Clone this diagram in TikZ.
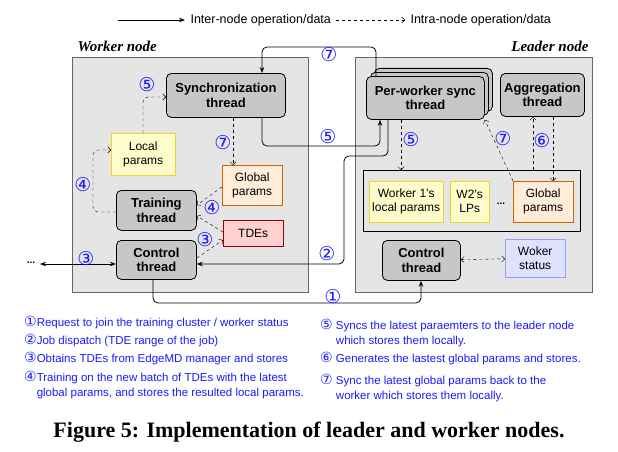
\documentclass[tikz,border=0pt]{standalone}
\usepackage{fontspec}
\setmainfont{Liberation Sans}
\newfontfamily\djv{DejaVu Sans}
\newfontfamily\capfont{Liberation Serif}
\usetikzlibrary{arrows.meta}
\definecolor{nb}{HTML}{1A1AFF}
\newcommand{\cn}[1]{{\djv\fontsize{14}{14}\selectfont #1}}
\begin{document}
\begin{tikzpicture}[x=1pt,y=-1pt,
 thr/.style={draw,rounded corners=5pt,fill=black!22,font=\fontsize{13}{14.5}\selectfont\bfseries,align=center,inner sep=0pt,thick},
 prm/.style={draw,fill=#1,font=\fontsize{12}{14}\selectfont,align=center,inner sep=0pt},
 grp/.style={draw=black!60,fill=black!10,thick},
 num/.style={text=nb,font=\djv\fontsize{19}{19}\selectfont,inner sep=0pt},
 sol/.style={-{Stealth[length=6pt]},thick,rounded corners=5pt},
 das/.style={-{Straight Barb[length=3pt]},dashed,rounded corners=5pt},
 leg/.style={text=nb,font=\fontsize{11.5}{15}\selectfont,align=left,anchor=west,inner sep=0pt}]
\useasboundingbox (0,0) rectangle (618,452);
% legend
\coordinate (l1a) at (118,20); \coordinate (l1b) at (185,20);
\draw[sol] (l1a) -- (l1b);
\node[anchor=west,font=\fontsize{12.5}{13}\selectfont] (t1) at (187,20) {Inter-node operation/data};
\coordinate (l2a) at (336,20); \coordinate (l2b) at (405,20);
\draw[das] (l2a) -- (l2b);
\node[anchor=west,font=\fontsize{12.5}{13}\selectfont] (t2) at (407,20) {Intra-node operation/data};
% groups
\node[grp,minimum width=236pt,minimum height=235pt,anchor=north west] (W) at (72,57) {};
\node[grp,minimum width=237pt,minimum height=235pt,anchor=north west] (L) at (355,57) {};
\node[anchor=west,font=\capfont\fontsize{15}{16}\selectfont\bfseries\itshape] (wl) at (74,46) {Worker node};
\node[anchor=east,font=\capfont\fontsize{15}{16}\selectfont\bfseries\itshape] (ll) at (592,46) {Leader node};
% worker nodes
\node[thr,minimum width=119pt,minimum height=44pt,anchor=north west] (sync) at (166,73) {Synchronization\\thread};
\node[prm={yellow!20},draw=yellow!70!brown,minimum width=64pt,minimum height=42pt,anchor=north west] (lp) at (111,133) {Local\\params};
\node[prm={orange!15},draw=orange!80!black,minimum width=60pt,minimum height=40pt,anchor=north west] (gp) at (222,165) {Global\\params};
\node[thr,minimum width=80pt,minimum height=40pt,anchor=north west] (tr) at (116,190) {Training\\thread};
\node[prm={red!18},draw=red!60!black,minimum width=60pt,minimum height=26pt,anchor=north west] (tde) at (223,220) {TDEs};
\node[thr,minimum width=80pt,minimum height=39pt,anchor=north west] (cw) at (116,240) {Control\\thread};
% leader nodes
\node[thr,minimum width=118pt,minimum height=43pt,anchor=north west] (pw3) at (374,68) {};
\node[thr,minimum width=118pt,minimum height=43pt,anchor=north west] (pw2) at (370,72) {};
\node[thr,minimum width=118pt,minimum height=43pt,anchor=north west] (pw) at (366,76) {Per-worker sync\\thread};
\node[thr,minimum width=84pt,minimum height=43pt,anchor=north west] (ag) at (500,73) {Aggregation\\thread};
\node[draw,thick,fill=black!10,minimum width=217pt,minimum height=61pt,anchor=north west] (ct) at (363,170) {};
\node[prm={yellow!20},draw=yellow!70!brown,minimum width=74pt,minimum height=41pt,anchor=north west] (w1) at (369,181) {Worker 1's\\local params};
\node[prm={yellow!20},draw=yellow!70!brown,minimum width=39pt,minimum height=41pt,anchor=north west] (w2) at (450,181) {W2's\\LPs};
\node[font=\bfseries] (dots) at (501,204) {...};
\node[prm={orange!15},draw=orange!80!black,minimum width=60pt,minimum height=41pt,anchor=north west] (gl) at (513,181) {Global\\params};
\node[thr,minimum width=78pt,minimum height=40pt,anchor=north west] (cl) at (382,240) {Control\\thread};
\node[prm={blue!12},draw=blue!40,minimum width=60pt,minimum height=38pt,anchor=north west] (ws) at (505,239) {Woker\\status};
% inter-node
\draw[sol] (pw.north west -| 376,0) |- (262,47) -- (sync.north -| 262,0);
\node[num] (n7a) at (329,55) {⑦};
\draw[sol] (sync.south -| 262,0) |- (380,146) -- (pw.south -| 380,0);
\node[num] (n5a) at (328,137) {⑤};
\draw[sol] (pw.south -| 388,0) |- (344,156) |- (cw.east |- 0,264);
\node[num] (n2) at (327,254) {②};
\coordinate (lft) at (40,264);
\node[font=\bfseries] (ell) at (31,263) {...};
\draw[{Stealth[length=6pt]}-{Stealth[length=6pt]},thick] (lft) -- (cw.west |- 0,264);
\node[num] (n3a) at (86,259) {③};
\draw[sol] (cw.south -| 153,0) |- (421,303) -- (cl.south -| 421,0);
\node[num] (n1) at (333,297) {①};
% worker intra
\draw[das] (lp.north -| 143,0) |- (sync.west |- 0,97);
\node[num] (n5b) at (147,85) {⑤};
\draw[das] (sync.south -| 233,0) -- (gp.north -| 233,0);
\node[num] (n7b) at (223,143) {⑦};
\draw[das] (tr.west |- 0,212) -| (93,150) -- (lp.west |- 0,150);
\node[num] (n4a) at (83,185) {④};
\draw[das,rounded corners=0] (gp.west |- 0,187) -- (tr.east |- 0,205);
\draw[das,rounded corners=0] (tde.west |- 0,232) -- (tr.east |- 0,216);
\node[num] (n4b) at (212,208) {④};
\draw[das,rounded corners=0] (cw.east |- 0,258) -- (tde.west |- 0,240);
\node[num] (n3b) at (205,240) {③};
% leader intra
\draw[das] (pw.south -| 401,0) -- (ct.north -| 401,0);
\node[num] (n5c) at (411,140) {⑤};
\draw[das,rounded corners=0] (gl.north west) -- (pw.south east);
\node[num] (n7c) at (503,139) {⑦};
\draw[das] (ct.north -| 533,0) -- (ag.south -| 533,0);
\draw[das] (ag.south -| 553,0) -- (gl.north -| 553,0);
\node[num] (n6) at (542,141) {⑥};
\draw[das,{Straight Barb[length=3pt]}-{Straight Barb[length=3pt]}] (cl) -- (ws);
% text legend
\node[leg] (e1) at (24,323) {\cn{①}Request to join the training cluster / worker status};
\node[leg] (e2) at (24,341) {\cn{②}Job dispatch (TDE range of the job)};
\node[leg] (e3) at (24,359) {\cn{③}Obtains TDEs from EdgeMD manager and stores};
\node[leg] (e4) at (24,385) {\cn{④}Training on the new batch of TDEs with the latest\\\phantom{\cn{④}}global params, and stores the resulted local params.};
\node[leg] (e5) at (320,333) {\cn{⑤} Syncs the latest paraemters to the leader node\\\phantom{\cn{⑤}} which stores them locally.};
\node[leg] (e6) at (320,359) {\cn{⑥} Generates the lastest global params and stores.};
\node[leg] (e7) at (320,388) {\cn{⑦} Sync the latest global params back to the\\\phantom{\cn{⑦}} worker which stores them locally.};
\node[font=\capfont\fontsize{22}{23}\selectfont\bfseries] (cap) at (309,432) {Figure 5: Implementation of leader and worker nodes.};
\end{tikzpicture}
\end{document}
